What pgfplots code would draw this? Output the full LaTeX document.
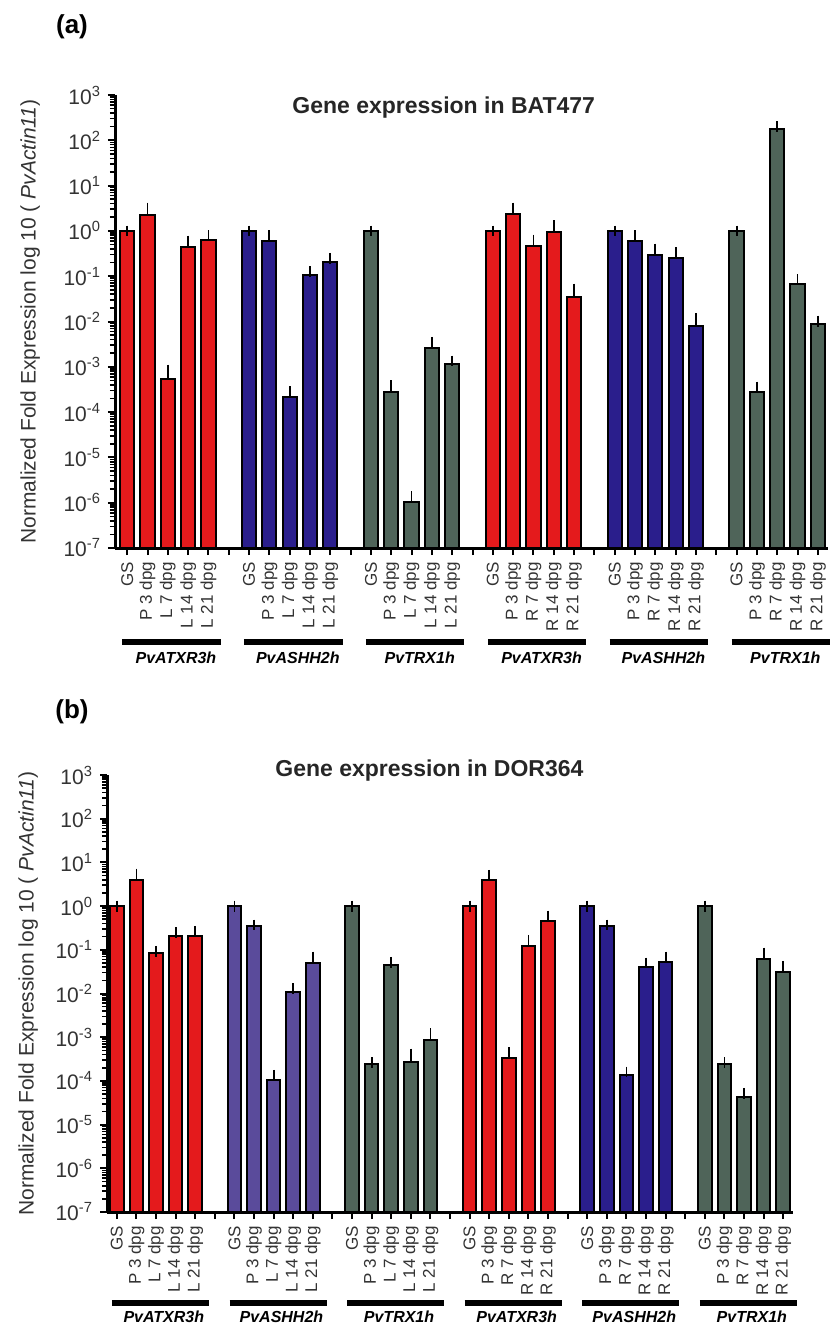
\documentclass[border=0pt]{standalone}
\usepackage{fontspec}
\setmainfont{Liberation Sans}
\usepackage{pgfplots}
\pgfplotsset{compat=1.18}

\definecolor{barred}{HTML}{E41A1C}
\definecolor{barblue}{HTML}{2A1E8C}
\definecolor{barpurple}{HTML}{5A4B9B}
\definecolor{bargray}{HTML}{4F6459}

\pgfplotsset{
  genebars/.style={ybar, bar shift=0pt, bar width=0.7, draw=black, line width=1pt, fill=#1,
    error bars/y dir=plus, error bars/y explicit,
    error bars/error bar style={line width=0.9pt, black},
    error bars/error mark options={black, mark size=2.7pt, line width=0.9pt}},
  logminor/.style={minor ytick={
    2e-7,3e-7,4e-7,5e-7,6e-7,7e-7,8e-7,9e-7,
    2e-6,3e-6,4e-6,5e-6,6e-6,7e-6,8e-6,9e-6,
    2e-5,3e-5,4e-5,5e-5,6e-5,7e-5,8e-5,9e-5,
    2e-4,3e-4,4e-4,5e-4,6e-4,7e-4,8e-4,9e-4,
    2e-3,3e-3,4e-3,5e-3,6e-3,7e-3,8e-3,9e-3,
    0.02,0.03,0.04,0.05,0.06,0.07,0.08,0.09,
    0.2,0.3,0.4,0.5,0.6,0.7,0.8,0.9,
    2,3,4,5,6,7,8,9,
    20,30,40,50,60,70,80,90,
    200,300,400,500,600,700,800,900}},
}

% underline and gene name below a group: start, end, centre, line shift, name shift, name
\newcommand{\gene}[6]{%
  \draw[line width=2.8pt] ([yshift=-#4]axis cs:#1,1e-7) -- ([yshift=-#4]axis cs:#2,1e-7);
  \node[font=\bfseries\itshape\fontsize{8}{9}\selectfont] at ([yshift=-#5]axis cs:#3,1e-7) {#6};}

\begin{document}
\begin{tikzpicture}
\path[use as bounding box] (0,0) rectangle (416pt,-663pt);

% panel (a)
\node[font=\bfseries\fontsize{13}{15}\selectfont] at (36pt,-13.5pt) {(a)};
\begin{axis}[
  at={(57.5pt,-274pt)}, anchor=south west,
  scale only axis, width=356.5pt, height=226.5pt,
  xmin=-0.6, xmax=34.5,
  ymode=log, log origin=infty,
  ymin=1e-7, ymax=1e3,
  ytick={1e-7,1e-6,1e-5,1e-4,1e-3,1e-2,1e-1,1,1e1,1e2,1e3},
  yticklabels={10\textsuperscript{-7},10\textsuperscript{-6},10\textsuperscript{-5},10\textsuperscript{-4},10\textsuperscript{-3},10\textsuperscript{-2},10\textsuperscript{-1},10\textsuperscript{0},10\textsuperscript{1},10\textsuperscript{2},10\textsuperscript{3}},
  logminor,
  xtick={0,...,34},
  xticklabels={GS,P 3 dpg,L 7 dpg,L 14 dpg,L 21 dpg,{},
               GS,P 3 dpg,L 7 dpg,L 14 dpg,L 21 dpg,{},
               GS,P 3 dpg,L 7 dpg,L 14 dpg,L 21 dpg,{},
               GS,P 3 dpg,R 7 dpg,R 14 dpg,R 21 dpg,{},
               GS,P 3 dpg,R 7 dpg,R 14 dpg,R 21 dpg,{},
               GS,P 3 dpg,R 7 dpg,R 14 dpg,R 21 dpg},
  axis x line*=bottom, axis y line*=left,
  axis line style={black, line width=1.5pt},
  tick align=outside, major tick length=3.5pt, minor tick length=2.5pt,
  tick style={black, line width=1pt},
  minor tick style={black, line width=0.8pt},
  x tick label style={rotate=90, anchor=east, font=\fontsize{8.5}{10}\selectfont, text=black!80},
  y tick label style={font=\fontsize{10.5}{12}\selectfont, text=black!80},
  ylabel={Normalized Fold Expression log 10 ( \textit{PvActin11})},
  ylabel style={font=\fontsize{10.5}{12}\selectfont, text=black!80, anchor=center, at={(axis description cs:-0.119,0.5)}},
  clip mode=individual,
]
\addplot[genebars=barred] table[x=x,y=y,y error=e] {
x y e
0 1 0
1 2.2 1.0
2 5.4e-4 3.1e-4
3 0.44 0.16
4 0.63 0.15
};
\addplot[genebars=barblue] table[x=x,y=y,y error=e] {
x y e
6 1 0
7 0.6 0.18
8 2.2e-4 0.6e-4
9 0.107 0.018
10 0.21 0.04
};
\addplot[genebars=bargray] table[x=x,y=y,y error=e] {
x y e
12 1 0
13 2.8e-4 1.0e-4
14 1.05e-6 0.3e-6
15 2.6e-3 0.9e-3
16 1.15e-3 0.2e-3
};
\addplot[genebars=barred] table[x=x,y=y,y error=e] {
x y e
18 1 0
19 2.35 0.85
20 0.47 0.16
21 0.95 0.35
22 0.035 0.017
};
\addplot[genebars=barblue] table[x=x,y=y,y error=e] {
x y e
24 1 0
25 0.6 0.18
26 0.3 0.1
27 0.25 0.08
28 0.008 0.0035
};
\addplot[genebars=bargray] table[x=x,y=y,y error=e] {
x y e
30 1 0
31 2.8e-4 0.8e-4
32 178 22
33 0.068 0.015
34 0.0089 0.0013
};
\node[font=\bfseries\fontsize{11.5}{13}\selectfont, text=black!85] at (rel axis cs:0.461,0.973) {Gene expression in BAT477};
\gene{-0.25}{4.6}{2.4}{47pt}{55pt}{PvATXR3h}
\gene{5.75}{10.6}{8.4}{47pt}{55pt}{PvASHH2h}
\gene{11.75}{16.6}{14.4}{47pt}{55pt}{PvTRX1h}
\gene{17.75}{22.6}{20.4}{47pt}{55pt}{PvATXR3h}
\gene{23.75}{28.6}{26.4}{47pt}{55pt}{PvASHH2h}
\gene{29.75}{34.6}{32.4}{47pt}{55pt}{PvTRX1h}
\end{axis}

% panel (b)
\node[font=\bfseries\fontsize{13}{15}\selectfont] at (36pt,-356pt) {(b)};
\begin{axis}[
  at={(53.5pt,-606pt)}, anchor=south west,
  scale only axis, width=343pt, height=218.5pt,
  xmin=-0.5, xmax=34.5,
  ymode=log, log origin=infty,
  ymin=1e-7, ymax=1e3,
  ytick={1e-7,1e-6,1e-5,1e-4,1e-3,1e-2,1e-1,1,1e1,1e2,1e3},
  yticklabels={10\textsuperscript{-7},10\textsuperscript{-6},10\textsuperscript{-5},10\textsuperscript{-4},10\textsuperscript{-3},10\textsuperscript{-2},10\textsuperscript{-1},10\textsuperscript{0},10\textsuperscript{1},10\textsuperscript{2},10\textsuperscript{3}},
  logminor,
  xtick={0,...,34},
  xticklabels={GS,P 3 dpg,L 7 dpg,L 14 dpg,L 21 dpg,{},
               GS,P 3 dpg,L 7 dpg,L 14 dpg,L 21 dpg,{},
               GS,P 3 dpg,L 7 dpg,L 14 dpg,L 21 dpg,{},
               GS,P 3 dpg,R 7 dpg,R 14 dpg,R 21 dpg,{},
               GS,P 3 dpg,R 7 dpg,R 14 dpg,R 21 dpg,{},
               GS,P 3 dpg,R 7 dpg,R 14 dpg,R 21 dpg},
  axis x line*=bottom, axis y line*=left,
  axis line style={black, line width=1.5pt},
  tick align=outside, major tick length=3.5pt, minor tick length=2.5pt,
  tick style={black, line width=1pt},
  minor tick style={black, line width=0.8pt},
  x tick label style={rotate=90, anchor=east, font=\fontsize{8.5}{10}\selectfont, text=black!80},
  y tick label style={font=\fontsize{10.5}{12}\selectfont, text=black!80},
  ylabel={Normalized Fold Expression log 10 ( \textit{PvActin11})},
  ylabel style={font=\fontsize{10.5}{12}\selectfont, text=black!80, anchor=center, at={(axis description cs:-0.115,0.5)}},
  clip mode=individual,
]
\addplot[genebars=barred] table[x=x,y=y,y error=e] {
x y e
0 1 0
1 3.9 1.5
2 0.084 0.009
3 0.206 0.044
4 0.206 0.06
};
\addplot[genebars=barpurple] table[x=x,y=y,y error=e] {
x y e
6 1 0
7 0.35 0.02
8 1.05e-4 0.3e-4
9 0.0107 0.0023
10 0.05 0.018
};
\addplot[genebars=bargray] table[x=x,y=y,y error=e] {
x y e
12 1 0
13 2.4e-4 0.2e-4
14 0.045 0.007
15 2.7e-4 1.4e-4
16 8.5e-4 3.5e-4
};
\addplot[genebars=barred] table[x=x,y=y,y error=e] {
x y e
18 1 0
19 3.9 1.2
20 3.3e-4 1.1e-4
21 0.12 0.046
22 0.46 0.13
};
\addplot[genebars=barblue] table[x=x,y=y,y error=e] {
x y e
24 1 0
25 0.35 0.02
26 1.35e-4 0.25e-4
27 0.04 0.01
28 0.052 0.016
};
\addplot[genebars=bargray] table[x=x,y=y,y error=e] {
x y e
30 1 0
31 2.4e-4 0.2e-4
32 4.3e-5 0.9e-5
33 0.061 0.023
34 0.031 0.011
};
\node[font=\bfseries\fontsize{11.5}{13}\selectfont, text=black!85] at (rel axis cs:0.47,1.011) {Gene expression in DOR364};
\gene{-0.25}{4.7}{2.4}{45.5pt}{52.5pt}{PvATXR3h}
\gene{5.75}{10.7}{8.4}{45.5pt}{52.5pt}{PvASHH2h}
\gene{11.75}{16.7}{14.4}{45.5pt}{52.5pt}{PvTRX1h}
\gene{17.75}{22.7}{20.4}{45.5pt}{52.5pt}{PvATXR3h}
\gene{23.75}{28.7}{26.4}{45.5pt}{52.5pt}{PvASHH2h}
\gene{29.75}{34.7}{32.4}{45.5pt}{52.5pt}{PvTRX1h}
\end{axis}
\end{tikzpicture}
\end{document}
